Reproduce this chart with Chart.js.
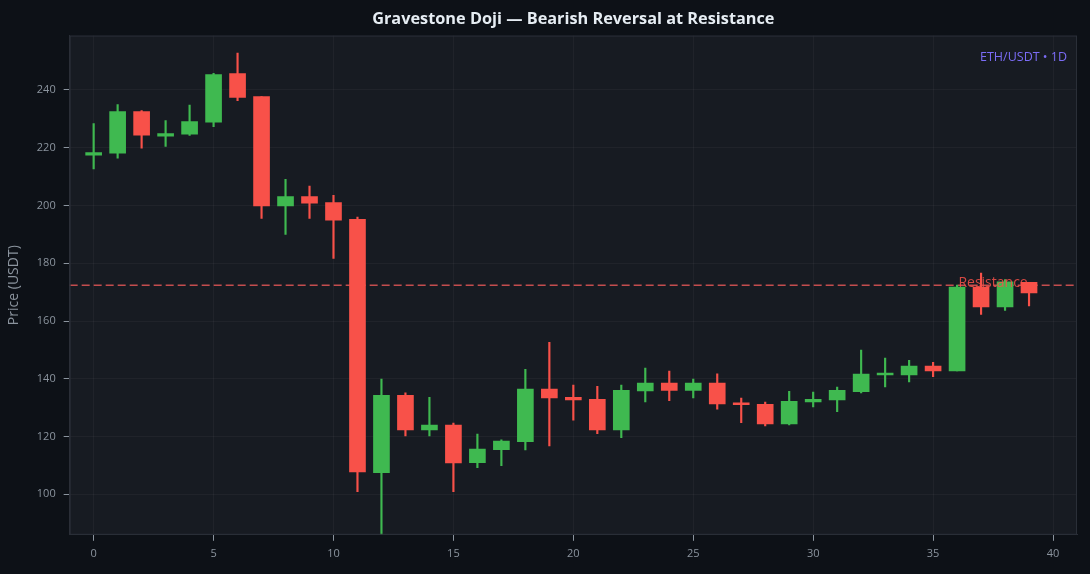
<!DOCTYPE html>
<html>
<head>
<meta charset="utf-8">
<script src="https://cdn.jsdelivr.net/npm/chart.js@4.4.1/dist/chart.umd.min.js"></script>
<style>
  html, body { margin: 0; padding: 0; background: #0d1117; }
  #wrap { width: 1090px; height: 574px; }
</style>
</head>
<body>
<div id="wrap"><canvas id="myChart" width="1090" height="574"></canvas></div>
<script>
// daily candles
var days   = [0,1,2,3,4,5,6,7,8,9,10,11,12,13,14,15,16,17,18,19,20,21,22,23,24,25,26,27,28,29,30,31,32,33,34,35,36,37,38,39];
var opens  = [217.4,218.1,232.5,224.0,224.7,228.8,245.6,237.7,199.8,203.1,201.0,195.2,107.5,134.3,122.3,124.0,111.0,115.5,118.2,136.4,133.6,132.9,122.3,135.8,138.5,136.0,138.5,131.7,131.2,124.4,132.0,132.7,135.5,141.3,141.3,144.4,142.7,171.7,164.9,173.4];
var highs  = [228.3,234.9,232.8,229.4,234.7,245.7,252.7,237.7,209.0,206.7,203.5,196.0,139.9,135.1,133.6,124.7,120.9,118.9,143.3,152.6,137.8,137.4,137.8,143.7,142.7,139.9,141.7,133.3,131.9,135.7,135.4,137.1,149.9,147.2,146.4,145.7,172.4,176.6,174.3,173.4];
var lows   = [212.6,216.4,219.8,220.4,224.2,227.3,236.3,195.5,190.0,195.5,181.7,100.9,84.0,120.2,120.2,100.9,109.2,109.9,115.4,116.8,125.7,121.0,119.6,132.0,132.4,133.4,129.5,124.8,123.7,124.0,130.3,128.6,135.1,137.2,138.9,140.7,142.7,162.3,163.7,165.2];
var closes = [218.3,232.5,224.3,224.9,229.0,245.3,237.4,199.8,203.1,200.8,194.9,107.8,134.3,122.3,124.0,110.9,115.7,118.4,136.4,133.4,132.7,122.3,136.0,138.5,136.0,138.5,131.3,131.0,124.4,132.2,132.9,136.0,141.6,141.6,144.4,142.7,171.7,164.9,173.6,169.7];
var resistanceLevel = 172.4;
var yTicks = [100,120,140,160,180,200,220,240];
var xTicks = [0,5,10,15,20,25,30,35,40];

var green = '#3fb950';
var red = '#f85149';

var bodies = [], wicks = [], colors = [];
for (var i = 0; i < days.length; i++) {
    bodies.push({x: days[i], y: [opens[i], closes[i]]});
    wicks.push({x: days[i], y: [lows[i], highs[i]]});
    colors.push(closes[i] >= opens[i] ? green : red);
}

// plot background + frame, resistance label, pair tag
var panelPlugin = {
    id: 'panel',
    beforeDraw: function(chart){
        var a = chart.chartArea, c = chart.ctx;
        c.save();
        c.fillStyle = '#171b22';
        c.fillRect(a.left, a.top, a.right - a.left, a.bottom - a.top);
        c.restore();
    },
    afterDraw: function(chart){
        var a = chart.chartArea, c = chart.ctx;
        var xs = chart.scales.x, ys = chart.scales.y;
        c.save();
        c.strokeStyle = '#2a2f38';
        c.lineWidth = 1;
        c.strokeRect(a.left + 0.5, a.top + 0.5, a.right - a.left - 1, a.bottom - a.top - 1);

        c.font = '14px "Open Sans"';
        c.fillStyle = 'rgba(248,81,73,0.85)';
        c.textAlign = 'center';
        c.textBaseline = 'bottom';
        c.fillText('Resistance', xs.getPixelForValue(37.5), ys.getPixelForValue(resistanceLevel) + 5);

        c.font = '12.5px "Open Sans"';
        c.fillStyle = '#7b6cf6';
        c.textAlign = 'right';
        c.textBaseline = 'middle';
        c.fillText('ETH/USDT \u2022 1D', a.right - 10, a.top + 22);
        c.restore();
    }
};

var ctx = document.getElementById('myChart').getContext('2d');
var myChart = new Chart(ctx, {
    type: 'bar',
    data: {
        datasets: [{
            label: 'body',
            data: bodies,
            backgroundColor: colors,
            borderWidth: 0,
            barThickness: 16,
            minBarLength: 2,
            grouped: false,
            order: 1
        }, {
            label: 'wick',
            data: wicks,
            backgroundColor: colors,
            borderWidth: 0,
            barThickness: 1.5,
            grouped: false,
            order: 2
        }, {
            type: 'line',
            label: 'Resistance',
            data: [{x: -1, y: resistanceLevel}, {x: 41, y: resistanceLevel}],
            borderColor: 'rgba(240,90,90,0.8)',
            borderWidth: 1.6,
            borderDash: [8, 4],
            pointRadius: 0,
            fill: false,
            order: 3
        }]
    },
    options: {
        responsive: false,
        animation: false,
        layout: { padding: { left: 6, right: 13, top: 0, bottom: 8 } },
        plugins: {
            legend: { display: false },
            tooltip: { enabled: false },
            title: {
                display: true,
                text: 'Gravestone Doji \u2014 Bearish Reversal at Resistance',
                color: '#e6edf3',
                font: { family: 'Open Sans', size: 16.3, weight: 'bold' },
                padding: { top: 10, bottom: 6 },
                fullSize: false
            }
        },
        scales: {
            x: {
                type: 'linear',
                min: -1,
                max: 41,
                offset: false,
                afterBuildTicks: function(scale){
                    scale.ticks = xTicks.map(function(v){ return {value: v}; });
                },
                grid: { color: 'rgba(255,255,255,0.04)', tickColor: '#8b949e', tickLength: 6, offset: false },
                border: { color: '#2a2f38' },
                ticks: { color: '#8b949e', padding: 6, font: { family: 'Open Sans', size: 11 } }
            },
            y: {
                type: 'linear',
                min: 86,
                max: 258.8,
                beginAtZero: false,
                afterBuildTicks: function(scale){
                    scale.ticks = yTicks.map(function(v){ return {value: v}; });
                },
                grid: { color: 'rgba(255,255,255,0.04)', tickColor: '#8b949e', tickLength: 6 },
                border: { color: '#2a2f38' },
                title: {
                    display: true,
                    text: 'Price (USDT)',
                    color: '#8b949e',
                    font: { family: 'Open Sans', size: 14 },
                    padding: { top: 0, bottom: 6 }
                },
                ticks: { color: '#8b949e', padding: 8, font: { family: 'Open Sans', size: 11 } }
            }
        }
    },
    plugins: [panelPlugin]
});
</script>
</body>
</html>
